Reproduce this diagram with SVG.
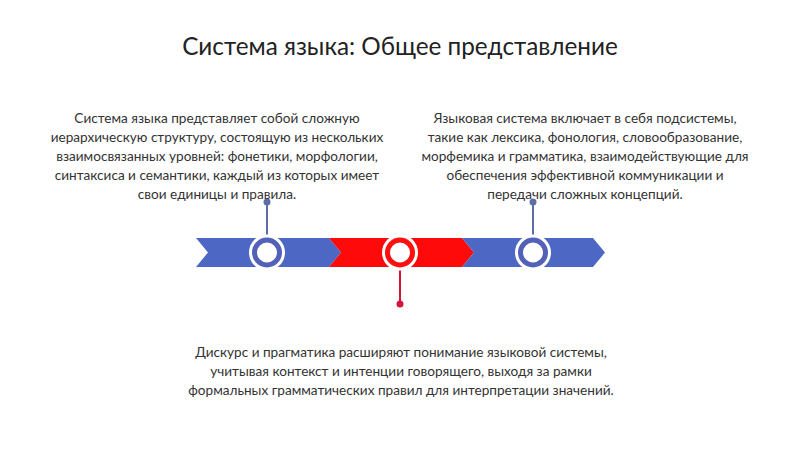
<svg xmlns="http://www.w3.org/2000/svg" width="800" height="449" viewBox="0 0 800 449">
<style>
.t{font-family:Lato,"Open Sans","Liberation Sans",sans-serif;fill:#333;}
.title{font-size:24.3px;text-anchor:middle;fill:#222;}
.body{font-size:13.6px;text-anchor:middle;}
.blue{fill:#4d68c4;}
.red{fill:#ff0a0a;}
.halo{fill:#fff;}
.ringb{fill:#fff;stroke:#5361b8;stroke-width:5;}
.ringr{fill:#fff;stroke:#ff1010;stroke-width:5;}
.lb{stroke:#5f6fa6;stroke-width:2;}
.lr{stroke:#d8143c;stroke-width:2;}
</style>
<rect width="800" height="449" fill="#fff"/>
<text class="t title" x="400" y="55">Система языка: Общее представление</text>
<g id="band">
<polygon class="blue" points="196,238 329,238 341,252.5 329,267 196,267 208,252.5"/>
<polygon class="red" points="329,238 462,238 474,252.5 462,267 329,267 341,252.5"/>
<polygon class="blue" points="462,238 593,238 605,252.5 593,267 462,267 474,252.5"/>
</g>
<g id="connectors">
<line class="lb" x1="267" y1="202" x2="267" y2="237"/>
<circle cx="267" cy="202" r="3.5" fill="#5f6fa6"/>
<line class="lb" x1="533" y1="202" x2="533" y2="237"/>
<circle cx="533" cy="202" r="3.5" fill="#5f6fa6"/>
<line class="lr" x1="400" y1="268" x2="400" y2="304"/>
<circle cx="400" cy="304" r="3.5" fill="#d8143c"/>
</g>
<g id="node1">
<circle class="halo" cx="267" cy="252.5" r="18"/>
<circle class="ringb" cx="267" cy="252.5" r="12.5"/>
<text class="t body" x="217" y="123">Система языка представляет собой сложную</text>
<text class="t body" x="217" y="142">иерархическую структуру, состоящую из нескольких</text>
<text class="t body" x="217" y="161">взаимосвязанных уровней: фонетики, морфологии,</text>
<text class="t body" x="217" y="180">синтаксиса и семантики, каждый из которых имеет</text>
<text class="t body" x="217" y="199">свои единицы и правила.</text>
</g>
<g id="node2">
<circle class="halo" cx="400" cy="252.5" r="18"/>
<circle class="ringr" cx="400" cy="252.5" r="12.5"/>
<text class="t body" x="401" y="357">Дискурс и прагматика расширяют понимание языковой системы,</text>
<text class="t body" x="401" y="376">учитывая контекст и интенции говорящего, выходя за рамки</text>
<text class="t body" x="401" y="395">формальных грамматических правил для интерпретации значений.</text>
</g>
<g id="node3">
<circle class="halo" cx="533" cy="252.5" r="18"/>
<circle class="ringb" cx="533" cy="252.5" r="12.5"/>
<text class="t body" x="585" y="123">Языковая система включает в себя подсистемы,</text>
<text class="t body" x="585" y="142">такие как лексика, фонология, словообразование,</text>
<text class="t body" x="585" y="161">морфемика и грамматика, взаимодействующие для</text>
<text class="t body" x="585" y="180">обеспечения эффективной коммуникации и</text>
<text class="t body" x="585" y="199">передачи сложных концепций.</text>
</g>
</svg>
